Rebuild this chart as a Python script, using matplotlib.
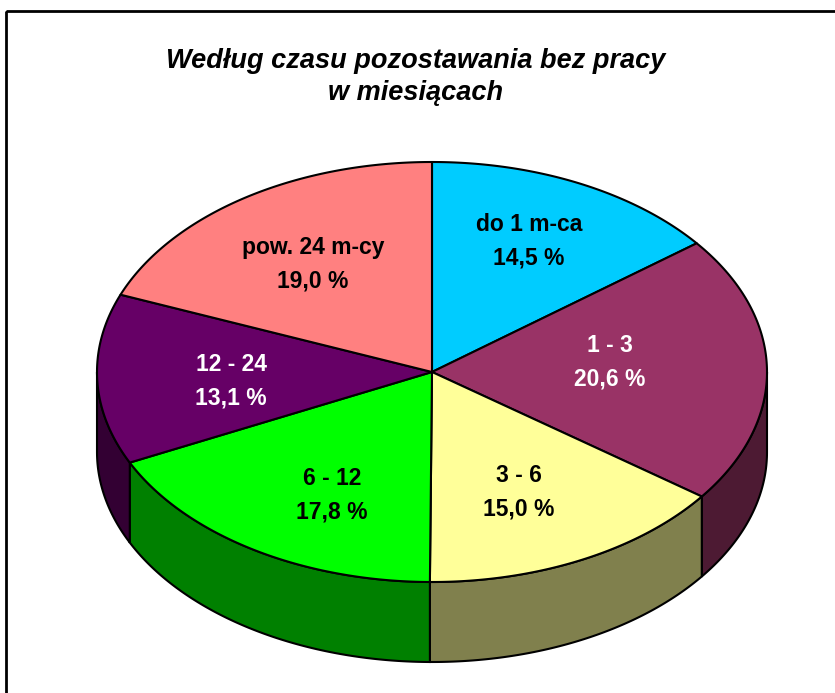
#!/usr/bin/env python3
"""3D-style pie: unemployed by time without work (months)."""
import numpy as np
import matplotlib
matplotlib.use("Agg")
import matplotlib.pyplot as plt
from matplotlib.patches import Polygon, Rectangle

title = "Według czasu pozostawania bez pracy\nw miesiącach"
categories = ["do 1 m-ca", "1 - 3", "3 - 6", "6 - 12", "12 - 24", "pow. 24 m-cy"]
shares = [14.5, 20.6, 15.0, 17.8, 13.1, 19.0]

top_colors = ["#00CCFF", "#993366", "#FFFF99", "#00FF00", "#660066", "#FF8080"]
side_colors = ["#006680", "#4D1A33", "#80804D", "#008000", "#330033", "#804040"]
text_colors = ["black", "white", "black", "black", "white", "black"]
# label centres in pixels (x, y)
label_pos = [(529, 241), (610, 362), (519, 492), (332, 495), (231, 381), (313, 264)]

W, H = 835, 693
cx, cy = 432, 372
rx, ry = 335, 210
depth = 80


def pt(theta, dy=0.0):
    t = np.radians(theta)
    return cx + rx * np.sin(t), cy - ry * np.cos(t) + dy


def arc(a0, a1, dy=0.0):
    n = max(int(abs(a1 - a0)) * 2, 2)
    th = np.linspace(a0, a1, n)
    return [pt(t, dy) for t in th]


fig = plt.figure(figsize=(W / 100, H / 100), dpi=100)
ax = fig.add_axes([0, 0, 1, 1])
ax.set_xlim(0, W)
ax.set_ylim(H, 0)
ax.axis("off")

# chart frame (right/bottom edges fall outside the crop)
ax.add_patch(Rectangle((6, 11), W + 20, H + 20, fill=False, ec="black", lw=2, zorder=0))

total = sum(shares)
bounds = np.concatenate([[0], np.cumsum(shares) / total * 360])

# side walls (front half only)
for i in range(len(shares)):
    lo = max(bounds[i], 90)
    hi = min(bounds[i + 1], 270)
    if hi <= lo:
        continue
    poly = arc(lo, hi) + arc(hi, lo, depth)
    ax.add_patch(Polygon(poly, closed=True, fc=side_colors[i], ec="black", lw=1.5, zorder=1))

# top faces
for i in range(len(shares)):
    poly = [(cx, cy)] + arc(bounds[i], bounds[i + 1])
    ax.add_patch(Polygon(poly, closed=True, fc=top_colors[i], ec="black", lw=1.5,
                         joinstyle="round", zorder=2))

for i, (x, y) in enumerate(label_pos):
    txt = categories[i] + "\n" + f"{shares[i]:.1f} %".replace(".", ",")
    ax.text(x, y, txt, ha="center", va="center", fontsize=16.5, fontweight="bold",
            family="Liberation Sans", color=text_colors[i], linespacing=1.6, zorder=3)

ax.text(416, 77, title, ha="center", va="center", fontsize=19.5, fontweight="bold",
        fontstyle="italic", family="Liberation Sans", linespacing=1.35)

fig.savefig("out.png", dpi=100)
